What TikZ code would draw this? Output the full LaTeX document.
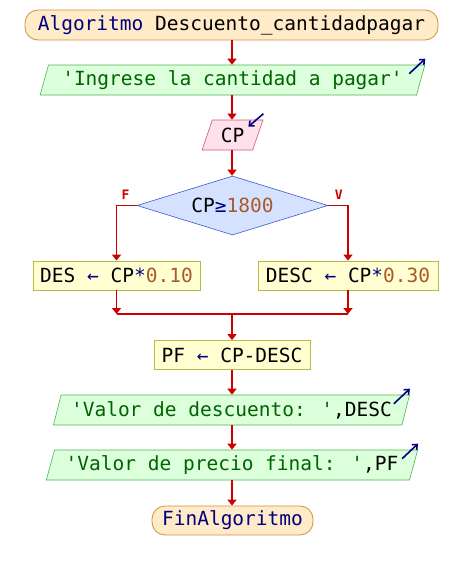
\documentclass[tikz,border=0pt]{standalone}
\usepackage{fontspec}
\setmainfont{DejaVu Sans Mono}
\usetikzlibrary{arrows.meta}
\usetikzlibrary{shapes.geometric}

\definecolor{flowred}{RGB}{204,0,0}
\definecolor{kwblue}{RGB}{0,0,128}
\definecolor{numbrown}{RGB}{170,90,40}
\definecolor{strgreen}{RGB}{0,100,0}
\definecolor{termfill}{RGB}{255,235,200}
\definecolor{termdraw}{RGB}{205,145,60}
\definecolor{outfill}{RGB}{220,255,220}
\definecolor{outdraw}{RGB}{80,180,80}
\definecolor{infill}{RGB}{255,225,235}
\definecolor{indraw}{RGB}{200,90,130}
\definecolor{ifill}{RGB}{213,226,255}
\definecolor{idraw}{RGB}{60,90,200}
\definecolor{asgfill}{RGB}{255,255,210}
\definecolor{asgdraw}{RGB}{185,185,70}

\newcommand{\kw}[1]{\textcolor{kwblue}{#1}}
\newcommand{\num}[1]{\textcolor{numbrown}{#1}}
\newcommand{\str}[1]{\textcolor{strgreen}{\textquotesingle#1\textquotesingle}}

\begin{document}
\begin{tikzpicture}[x=1pt,y=-1pt,
    font=\fontsize{19.5}{22}\selectfont,
    term/.style={draw=termdraw,fill=termfill,thick,rounded corners=13pt,
        minimum height=30pt,inner sep=0pt},
    outbox/.style={trapezium,trapezium left angle=68,trapezium right angle=112,
        trapezium stretches=true,draw=outdraw,fill=outfill,semithick,
        minimum height=30pt,inner sep=0pt},
    inbox/.style={outbox,draw=indraw,fill=infill},
    ifbox/.style={diamond,draw=idraw,fill=ifill,semithick,aspect=3.2,inner sep=0pt},
    asg/.style={draw=asgdraw,fill=asgfill,thick,minimum height=29pt,inner sep=0pt},
    flow/.style={draw=flowred,line width=1.8pt,-{Triangle[width=9pt,length=6pt]}},
    io/.style={draw=kwblue,line width=1.6pt,-{Straight Barb[length=4pt,width=7pt]}},
    lbl/.style={text=flowred,font=\fontsize{13}{14}\selectfont\bfseries}]

    \useasboundingbox (0,0) rectangle (464,570);

    % nodes
    \node[term,minimum width=413pt] (ini) at (231.5,25) {\kw{Algoritmo} Descuento\_cantidadpagar};
    \node[outbox,minimum width=385pt] (msg) at (232.5,80) {\str{Ingrese la cantidad a pagar}};
    \node[inbox,minimum width=61pt] (leer) at (232.5,135) {CP};
    \node[ifbox,minimum width=191pt,minimum height=59pt] (cond) at (232.5,205.5) {CP\kw{≥}\num{1800}};
    \node[asg,minimum width=167pt] (des) at (116.5,275.5) {DES \kw{←} CP\kw{*}\num{0.10}};
    \node[asg,minimum width=180pt] (desc) at (348,275.5) {DESC \kw{←} CP\kw{*}\num{0.30}};
    \coordinate (une) at (232,314);
    \node[asg,minimum width=156pt] (pf) at (232,355) {PF \kw{←} CP-DESC};
    \node[outbox,minimum width=357pt] (out1) at (231.5,410) {\str{Valor de descuento: },DESC};
    \node[outbox,minimum width=372pt] (out2) at (232,465) {\str{Valor de precio final: },PF};
    \node[term,minimum width=161pt,minimum height=29pt] (fin) at (232.5,520.5) {\kw{FinAlgoritmo}};

    % connectors
    \draw[flow] (ini.south -| une) -- (msg.north -| une);
    \draw[flow] (msg.south -| une) -- (leer.north -| une);
    \draw[flow] (leer.south -| une) -- (cond.north -| une);
    \draw[flow] (cond.west) -| node[lbl,pos=0.5,anchor=south west,xshift=1pt,yshift=2pt] {F} (des.north);
    \draw[flow] (cond.east) -| node[lbl,pos=0.5,anchor=south east,xshift=-1pt,yshift=2pt] {V} (desc.north);
    \draw[flow] (des.south) -- (des.south |- une);
    \draw[flow] (desc.south) -- (desc.south |- une);
    \draw[draw=flowred,line width=1.8pt] (des.south |- une) -- (desc.south |- une);
    \draw[flow] (une) -- (pf.north -| une);
    \draw[flow] (pf.south -| une) -- (out1.north -| une);
    \draw[flow] (out1.south -| une) -- (out2.north -| une);
    \draw[flow] (out2.south -| une) -- (fin.north -| une);

    % in/out marks
    \draw[io] ([shift={(-16,9)}]msg.top right corner) -- ([shift={(0,-6)}]msg.top right corner);
    \draw[io] ([shift={(-16,9)}]out1.top right corner) -- ([shift={(0,-6)}]out1.top right corner);
    \draw[io] ([shift={(-16,9)}]out2.top right corner) -- ([shift={(0,-6)}]out2.top right corner);
    \draw[io] ([shift={(0,-6)}]leer.top right corner) -- ([shift={(-15,7)}]leer.top right corner);

\end{tikzpicture}
\end{document}
